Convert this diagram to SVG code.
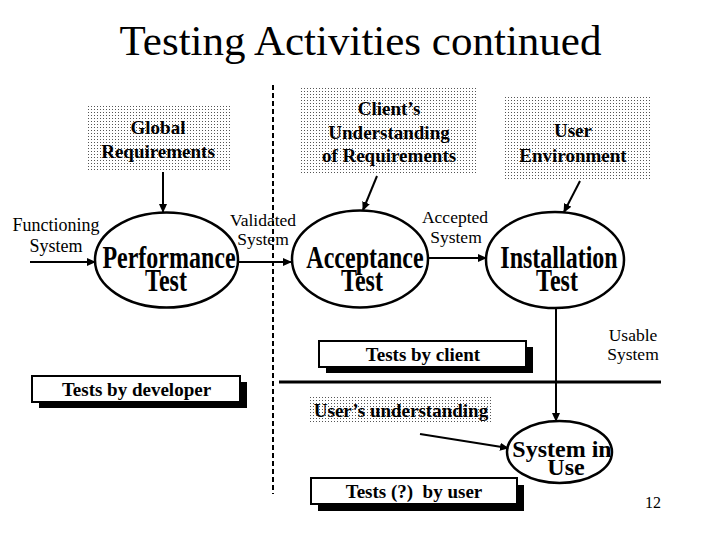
<svg xmlns="http://www.w3.org/2000/svg" width="720" height="540" viewBox="0 0 720 540">
<style>
.t{font-family:'Liberation Serif','Times New Roman','DejaVu Serif',serif;fill:#000}
.r{font-size:18px}
.b{font-size:19px;font-weight:bold}
.big{font-size:24px;font-weight:bold}
.el{fill:none;stroke:#000;stroke-width:2.5}
.ln{fill:none;stroke:#000;stroke-width:2}
.box{fill:#fff;stroke:#000;stroke-width:2}
.sh{fill:#000}
.dot{fill:url(#dots)}
</style>
<defs>
<pattern id="dots" width="3" height="3" patternUnits="userSpaceOnUse">
<rect width="3" height="3" fill="#fff"/>
<rect x="1" y="1" width="1" height="1" fill="#555"/>
</pattern>
<marker id="ah" markerWidth="9" markerHeight="8" refX="8" refY="4" orient="auto" markerUnits="userSpaceOnUse">
<path d="M0,0 L9,4 L0,8 Z" fill="#000"/>
</marker>
</defs>
<rect width="720" height="540" fill="#fff"/>
<text class="t" x="360.5" y="55" font-size="43" text-anchor="middle">Testing Activities continued</text>

<g id="divider">
<line x1="273" y1="85" x2="273" y2="494" stroke="#000" stroke-width="2" stroke-dasharray="5,3"/>
<line x1="279" y1="382" x2="661" y2="382" stroke="#000" stroke-width="3"/>
</g>

<g id="global-req">
<rect class="dot" x="88" y="106" width="142" height="66"/>
<text class="t b" x="158" y="134" text-anchor="middle">Global</text>
<text class="t b" x="158" y="158" text-anchor="middle">Requirements</text>
</g>
<g id="client-req">
<rect class="dot" x="299" y="87" width="179" height="88"/>
<text class="t b" x="389" y="115" text-anchor="middle">Client’s</text>
<text class="t b" x="389" y="139" text-anchor="middle">Understanding</text>
<text class="t b" x="389" y="162" text-anchor="middle">of Requirements</text>
</g>
<g id="user-env">
<rect class="dot" x="504" y="97" width="147" height="84"/>
<text class="t b" x="573" y="137" text-anchor="middle">User</text>
<text class="t b" x="573" y="162" text-anchor="middle">Environment</text>
</g>

<g id="performance">
<ellipse class="el" cx="166.5" cy="260" rx="71.5" ry="47.5"/>
<text class="t big" transform="translate(169,268) scale(1,1.3)" text-anchor="middle">Performance</text>
<text class="t big" transform="translate(166,291) scale(1,1.3)" text-anchor="middle">Test</text>
</g>
<g id="acceptance">
<ellipse class="el" cx="360" cy="259" rx="68" ry="48.5"/>
<text class="t big" transform="translate(365,268) scale(1,1.3)" text-anchor="middle">Acceptance</text>
<text class="t big" transform="translate(362,291) scale(1,1.3)" text-anchor="middle">Test</text>
</g>
<g id="installation">
<ellipse class="el" cx="555" cy="260" rx="69" ry="48"/>
<text class="t big" transform="translate(559,268) scale(1,1.3)" text-anchor="middle">Installation</text>
<text class="t big" transform="translate(557,291) scale(1,1.3)" text-anchor="middle">Test</text>
</g>
<g id="system-in-use">
<ellipse class="el" cx="559.5" cy="452" rx="52.5" ry="31"/>
<text class="t big" x="562" y="457" text-anchor="middle">System in</text>
<text class="t big" x="566" y="475" text-anchor="middle">Use</text>
</g>

<g id="tests-developer">
<rect class="sh" x="39" y="382" width="208" height="26"/>
<rect class="box" x="32" y="376" width="208" height="26"/>
<text class="t b" x="136.5" y="396" text-anchor="middle">Tests by developer</text>
</g>
<g id="tests-client">
<rect class="sh" x="326" y="347" width="207" height="26"/>
<rect class="box" x="319" y="341" width="207" height="26"/>
<text class="t b" x="423" y="361" text-anchor="middle">Tests by client</text>
</g>
<g id="tests-user">
<rect class="sh" x="318" y="485" width="206" height="26"/>
<rect class="box" x="311" y="478" width="206" height="26"/>
<text class="t b" x="414" y="498" text-anchor="middle" xml:space="preserve">Tests (?)  by user</text>
</g>
<g id="users-understanding">
<rect class="dot" x="310" y="395" width="183" height="27"/>
<text class="t b" x="401" y="417" text-anchor="middle">User’s understanding</text>
</g>

<g id="connectors">
<line class="ln" x1="30" y1="262" x2="95" y2="262" marker-end="url(#ah)"/>
<line class="ln" x1="163" y1="172" x2="163" y2="212" marker-end="url(#ah)"/>
<line class="ln" x1="238" y1="262" x2="291" y2="262" marker-end="url(#ah)"/>
<line class="ln" x1="377" y1="176" x2="363" y2="210" marker-end="url(#ah)"/>
<line class="ln" x1="428" y1="258" x2="486" y2="258" marker-end="url(#ah)"/>
<line class="ln" x1="580" y1="181" x2="564" y2="212" marker-end="url(#ah)"/>
<line class="ln" x1="556" y1="309" x2="556" y2="421" marker-end="url(#ah)"/>
<line class="ln" x1="420" y1="434" x2="508" y2="448" marker-end="url(#ah)"/>
</g>

<g id="labels">
<text class="t r" x="56" y="231" text-anchor="middle">Functioning</text>
<text class="t r" x="56" y="252" text-anchor="middle">System</text>
<text class="t" font-size="17.5" x="263" y="226" text-anchor="middle">Validated</text>
<text class="t" font-size="17.5" x="263" y="245" text-anchor="middle">System</text>
<text class="t" font-size="17.5" x="455" y="223" text-anchor="middle">Accepted</text>
<text class="t" font-size="17.5" x="456" y="243" text-anchor="middle">System</text>
<text class="t" font-size="17.5" x="633" y="341" text-anchor="middle">Usable</text>
<text class="t" font-size="17.5" x="633" y="360" text-anchor="middle">System</text>
<text class="t" font-size="16" x="653" y="508" text-anchor="middle">12</text>
</g>
</svg>
